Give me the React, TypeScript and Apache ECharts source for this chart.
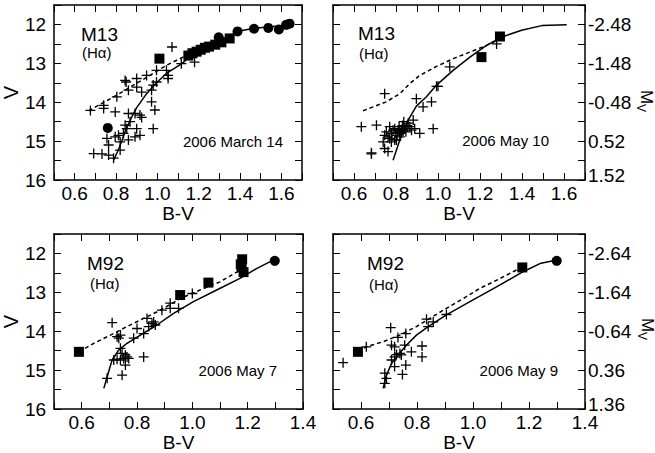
import React, { useEffect, useRef } from 'react';
import * as echarts from 'echarts';

type P = [number, number];

// ---- Panel 1: M13, 2006 March 14 ----
const tlPlus: P[] = [
  [1.071, 12.58], [1.18, 12.97], [1.116, 13.01], [1.044, 13.18], [0.996, 13.18], [1.052, 13.31],
  [1.052, 13.39], [0.948, 13.31], [0.9, 13.39], [0.844, 13.44], [0.849, 13.48], [0.9, 13.61],
  [0.86, 13.69], [0.924, 13.74], [0.98, 13.56], [0.996, 13.48], [0.972, 13.69], [0.804, 13.86],
  [0.74, 14.08], [0.74, 14.16], [0.676, 14.21], [0.796, 14.25], [0.972, 13.99], [0.988, 14.2],
  [0.86, 14.29], [0.892, 14.29], [0.916, 14.33], [0.924, 14.39], [0.868, 14.5], [0.844, 14.59],
  [0.852, 14.68], [0.9, 14.68], [0.98, 14.68], [0.916, 14.85], [0.892, 14.89], [0.836, 14.8],
  [0.812, 14.85], [0.796, 14.89], [0.756, 14.93], [0.764, 15.1], [0.82, 15.02], [0.86, 14.97],
  [0.82, 15.23], [0.692, 15.32], [0.732, 15.33], [0.764, 15.36], [0.788, 15.44]
];
const tlSquares: P[] = [
  [1.01, 12.88], [1.15, 12.8], [1.17, 12.74], [1.19, 12.7], [1.21, 12.65], [1.23, 12.6],
  [1.25, 12.57], [1.28, 12.52], [1.31, 12.46], [1.35, 12.36]
];
const tlCircles: P[] = [
  [0.76, 14.66], [1.297, 12.33], [1.388, 12.18], [1.468, 12.11], [1.537, 12.09], [1.588, 12.13],
  [1.623, 12.01], [1.64, 11.98]
];
const tlSolid: P[] = [
  [0.788, 15.5], [0.817, 15.15], [0.844, 14.76], [0.876, 14.38], [0.9, 14.14], [0.948, 13.78],
  [0.996, 13.5], [1.044, 13.26], [1.12, 13.0], [1.172, 12.75], [1.284, 12.45], [1.396, 12.17],
  [1.47, 12.1], [1.55, 12.06], [1.65, 12.0]
];
const tlDashed: P[] = [
  [0.668, 14.22], [0.724, 14.05], [0.804, 13.82], [0.884, 13.56], [0.964, 13.31], [1.044, 13.05],
  [1.14, 12.8], [1.172, 12.74]
];

// ---- Panel 2: M13, 2006 May 10 ----
const trPlus: P[] = [
  [1.279, 12.5], [1.056, 13.09], [0.993, 13.59], [1.0, 13.59], [0.746, 13.78], [0.897, 13.91],
  [0.929, 14.12], [0.969, 13.99], [0.635, 14.63], [0.707, 14.59], [0.977, 14.68], [0.77, 14.63],
  [0.746, 14.85], [0.754, 14.76], [0.762, 14.89], [0.778, 14.8], [0.786, 14.72], [0.794, 14.68],
  [0.799, 14.79], [0.805, 14.85], [0.81, 14.72], [0.815, 14.63], [0.818, 14.76], [0.823, 14.8],
  [0.827, 14.7], [0.831, 14.6], [0.834, 14.74], [0.837, 14.5], [0.842, 14.68], [0.847, 14.76],
  [0.853, 14.6], [0.858, 14.54], [0.866, 14.63], [0.874, 14.72], [0.889, 14.68], [0.913, 14.8],
  [0.882, 14.46], [0.802, 14.97], [0.778, 15.02], [0.739, 15.02], [0.746, 15.19], [0.762, 15.27],
  [0.683, 15.3], [0.683, 15.33], [0.818, 14.89], [0.794, 14.97], [0.77, 14.93]
];
const trSquares: P[] = [[1.207, 12.84], [1.295, 12.31]];
const trSolid: P[] = [
  [0.786, 15.49], [0.818, 14.97], [0.858, 14.46], [0.897, 14.1], [0.945, 13.86], [0.993, 13.56],
  [1.072, 13.18], [1.152, 12.84], [1.231, 12.54], [1.311, 12.31], [1.398, 12.15], [1.494, 12.03],
  [1.613, 12.01]
];
const trDashed: P[] = [
  [0.643, 14.22], [0.691, 14.12], [0.754, 13.99], [0.818, 13.78], [0.866, 13.52], [0.913, 13.31],
  [0.993, 13.08], [1.072, 12.88], [1.152, 12.71], [1.231, 12.54], [1.279, 12.41]
];

// ---- Panel 3: M92, 2006 May 7 ----
const blPlus: P[] = [
  [0.71, 13.78], [0.728, 14.14], [0.74, 14.1], [0.734, 14.18], [0.74, 14.44], [0.746, 14.57],
  [0.758, 14.61], [0.752, 14.7], [0.764, 14.66], [0.716, 14.74], [0.728, 14.72], [0.74, 14.74],
  [0.758, 14.87], [0.746, 15.13], [0.692, 15.21], [0.77, 14.7], [0.788, 14.18], [0.8, 13.93],
  [0.824, 14.06], [0.824, 14.66], [0.836, 13.67], [0.842, 13.88], [0.86, 13.76], [0.866, 13.84],
  [0.89, 13.46], [0.92, 13.41], [0.92, 13.28], [0.95, 13.41], [1.0, 13.03], [0.854, 13.8]
];
const blSquares: P[] = [
  [0.59, 14.53], [0.956, 13.07], [1.058, 12.75], [1.18, 12.15], [1.175, 12.28], [1.178, 12.36],
  [1.185, 12.48]
];
const blCircles: P[] = [[1.298, 12.19]];
const blSolid: P[] = [
  [0.68, 15.47], [0.692, 15.17], [0.71, 14.74], [0.734, 14.48], [0.764, 14.31], [0.812, 14.1],
  [0.872, 13.84], [0.932, 13.54], [1.004, 13.24], [1.088, 12.94], [1.172, 12.64], [1.232, 12.39],
  [1.292, 12.17]
];
const blDashed: P[] = [
  [0.59, 14.53], [0.644, 14.31], [0.704, 14.1], [0.764, 13.88], [0.824, 13.67], [0.884, 13.46],
  [0.956, 13.16], [1.028, 12.94], [1.1, 12.73], [1.172, 12.43]
];

// ---- Panel 4: M92, 2006 May 9 ----
const brPlus: P[] = [
  [0.536, 14.81], [0.619, 14.4], [0.706, 13.91], [0.732, 14.16], [0.76, 14.06], [0.72, 14.4],
  [0.756, 14.36], [0.72, 14.66], [0.727, 14.6], [0.739, 14.57], [0.744, 14.61], [0.709, 14.74],
  [0.72, 14.91], [0.76, 14.87], [0.748, 15.11], [0.78, 14.53], [0.818, 14.38], [0.818, 14.66],
  [0.834, 13.69], [0.84, 13.88], [0.858, 13.76], [0.905, 13.57], [0.685, 15.08], [0.691, 15.21],
  [0.685, 15.34], [0.709, 14.36]
];
const brSquares: P[] = [[0.589, 14.53], [1.176, 12.36]];
const brCircles: P[] = [[1.299, 12.19]];
const brSolid: P[] = [
  [0.679, 15.47], [0.691, 15.13], [0.709, 14.83], [0.732, 14.61], [0.762, 14.36], [0.798, 14.1],
  [0.84, 13.88], [0.905, 13.58], [0.989, 13.24], [1.084, 12.86], [1.179, 12.47], [1.239, 12.26],
  [1.299, 12.17]
];
const brDashed: P[] = [
  [0.589, 14.53], [0.619, 14.4], [0.679, 14.27], [0.738, 14.1], [0.798, 13.88], [0.846, 13.67],
  [0.905, 13.41], [0.965, 13.16], [1.024, 12.9], [1.084, 12.69], [1.143, 12.47], [1.179, 12.34]
];

// distance moduli used for the right-hand M_V axes
const m13Offset = 14.48;
const m92Offset = 14.64;

const FONT = '"Liberation Sans", Arial, Helvetica, sans-serif';
const PLUS = 'path://M4.35,0H5.65V4.35H10V5.65H5.65V10H4.35V5.65H0V4.35H4.35Z';

const isInt = (v: number) => Math.abs(v - Math.round(v)) < 1e-6;

function xAxes(grid: number, max: number) {
  const common = {
    type: 'value', gridIndex: grid, min: 0.5, max, interval: 0.1,
    axisLine: { show: true, onZero: false, lineStyle: { color: '#000', width: 1.5 } },
    axisTick: { show: true, inside: true, length: 7, lineStyle: { color: '#000', width: 1 } },
    splitLine: { show: false },
  };
  return [
    {
      ...common, position: 'bottom',
      axisLabel: {
        show: true, margin: 4, color: '#000', fontSize: 19, fontFamily: FONT,
        formatter: (v: number) => (Math.round(v * 10) % 2 === 0 ? v.toFixed(1) : ''),
      },
      name: 'B-V', nameLocation: 'middle', nameGap: 16,
      nameTextStyle: { color: '#000', fontSize: 19, fontFamily: FONT },
    },
    { ...common, position: 'top', axisLabel: { show: false } },
  ];
}

function yAxes(grid: number, labelSide: 'left' | 'right', offset: number) {
  const common = {
    type: 'value', gridIndex: grid, min: 11.5, max: 16, interval: 0.5, inverse: true,
    axisLine: { show: true, onZero: false, lineStyle: { color: '#000', width: 1.5 } },
    axisTick: { show: true, inside: true, length: 7, lineStyle: { color: '#000', width: 1 } },
    splitLine: { show: false },
  };
  const left: any = { ...common, position: 'left', axisLabel: { show: false } };
  const right: any = { ...common, position: 'right', axisLabel: { show: false } };
  if (labelSide === 'left') {
    left.axisLabel = {
      show: true, margin: 8, color: '#000', fontSize: 19, fontFamily: FONT,
      formatter: (v: number) => (isInt(v) ? String(Math.round(v)) : ''),
    };
    left.name = 'V';
    left.nameLocation = 'middle';
    left.nameRotate = 90;
    left.nameGap = 29;
    left.nameTextStyle = { color: '#000', fontSize: 20, fontFamily: FONT };
  } else {
    right.axisLabel = {
      show: true, margin: 3, color: '#000', fontSize: 19, fontFamily: FONT,
      formatter: (v: number) => {
        if (!isInt(v)) return '';
        const t = (v - offset).toFixed(2);
        return Math.round(v) === 16 ? '{b|' + t + '}' : t;
      },
      rich: { b: { fontSize: 19, fontFamily: FONT, color: '#000', padding: [0, 0, 9, 0] } },
    };
  }
  return [left, right];
}

function panelSeries(grid: number, plus: P[], squares: P[], circles: P[], solid: P[], dashed: P[]) {
  const ax = { xAxisIndex: grid * 2, yAxisIndex: grid * 2 };
  const s: any[] = [
    { type: 'line', ...ax, data: solid, showSymbol: false, silent: true, z: 2,
      lineStyle: { color: '#000', width: 1.5 } },
    { type: 'line', ...ax, data: dashed, showSymbol: false, silent: true, z: 2,
      lineStyle: { color: '#000', width: 1.5, type: [4, 3] } },
    { type: 'scatter', ...ax, data: plus, symbol: PLUS, symbolSize: 10, z: 3,
      itemStyle: { color: '#000', opacity: 1 } },
    { type: 'scatter', ...ax, data: squares, symbol: 'rect', symbolSize: 10, z: 4,
      itemStyle: { color: '#000', opacity: 1 } },
  ];
  if (circles.length) {
    s.push({ type: 'scatter', ...ax, data: circles, symbol: 'circle', symbolSize: 10, z: 4,
      itemStyle: { color: '#000', opacity: 1 } });
  }
  return s;
}

function txt(x: number, y: number, text: string, size: number, align = 'left') {
  return {
    type: 'text', x, y, z: 10,
    style: { text, fill: '#000', fontSize: size, fontFamily: FONT, align, verticalAlign: 'middle' },
  };
}

function mv(cx: number, cy: number) {
  return [
    { type: 'text', x: cx, y: cy, rotation: -Math.PI / 2, z: 10,
      style: { text: 'M', fill: '#000', fontSize: 17, fontFamily: FONT, align: 'center', verticalAlign: 'middle' } },
    { type: 'text', x: cx - 5, y: cy + 11, rotation: -Math.PI / 2, z: 10,
      style: { text: 'V', fill: '#000', fontSize: 12, fontFamily: FONT, align: 'center', verticalAlign: 'middle' } },
  ];
}

export default function App() {
  const ref = useRef<HTMLDivElement>(null);
  useEffect(() => {
    if (!ref.current) return;
    const chart = echarts.init(ref.current, null, { renderer: 'svg' });
    const option: any = {
      animation: false,
      backgroundColor: '#fff',
      grid: [
        { left: 53, top: 5, width: 249, height: 175 },
        { left: 333, top: 5, width: 252, height: 175 },
        { left: 53, top: 234, width: 250, height: 175 },
        { left: 333, top: 234, width: 252, height: 175 },
      ],
      xAxis: [...xAxes(0, 1.7), ...xAxes(1, 1.7), ...xAxes(2, 1.4), ...xAxes(3, 1.4)],
      yAxis: [
        ...yAxes(0, 'left', 0), ...yAxes(1, 'right', m13Offset),
        ...yAxes(2, 'left', 0), ...yAxes(3, 'right', m92Offset),
      ],
      series: [
        ...panelSeries(0, tlPlus, tlSquares, tlCircles, tlSolid, tlDashed),
        ...panelSeries(1, trPlus, trSquares, [], trSolid, trDashed),
        ...panelSeries(2, blPlus, blSquares, blCircles, blSolid, blDashed),
        ...panelSeries(3, brPlus, brSquares, brCircles, brSolid, brDashed),
      ],
      graphic: [
        txt(81, 34, 'M13', 19), txt(82, 52, '(H\u03b1)', 15),
        txt(358, 33, 'M13', 19), txt(359, 53, '(H\u03b1)', 15),
        txt(87, 263, 'M92', 19), txt(90, 283, '(H\u03b1)', 15),
        txt(367, 263, 'M92', 19), txt(369, 284, '(H\u03b1)', 15),
        txt(283, 141, '2006 March 14', 15, 'right'),
        txt(549, 140, '2006 May 10', 15, 'right'),
        txt(277, 370, '2006 May 7', 15, 'right'),
        txt(558, 370, '2006 May 9', 15, 'right'),
        ...mv(646, 97), ...mv(647, 325),
      ],
    };
    chart.setOption(option);
    return () => chart.dispose();
  }, []);
  return (
    <div
      ref={ref}
      style={{ position: 'absolute', left: 0, top: 0, width: 655, height: 453, background: '#fff' }}
    />
  );
}
